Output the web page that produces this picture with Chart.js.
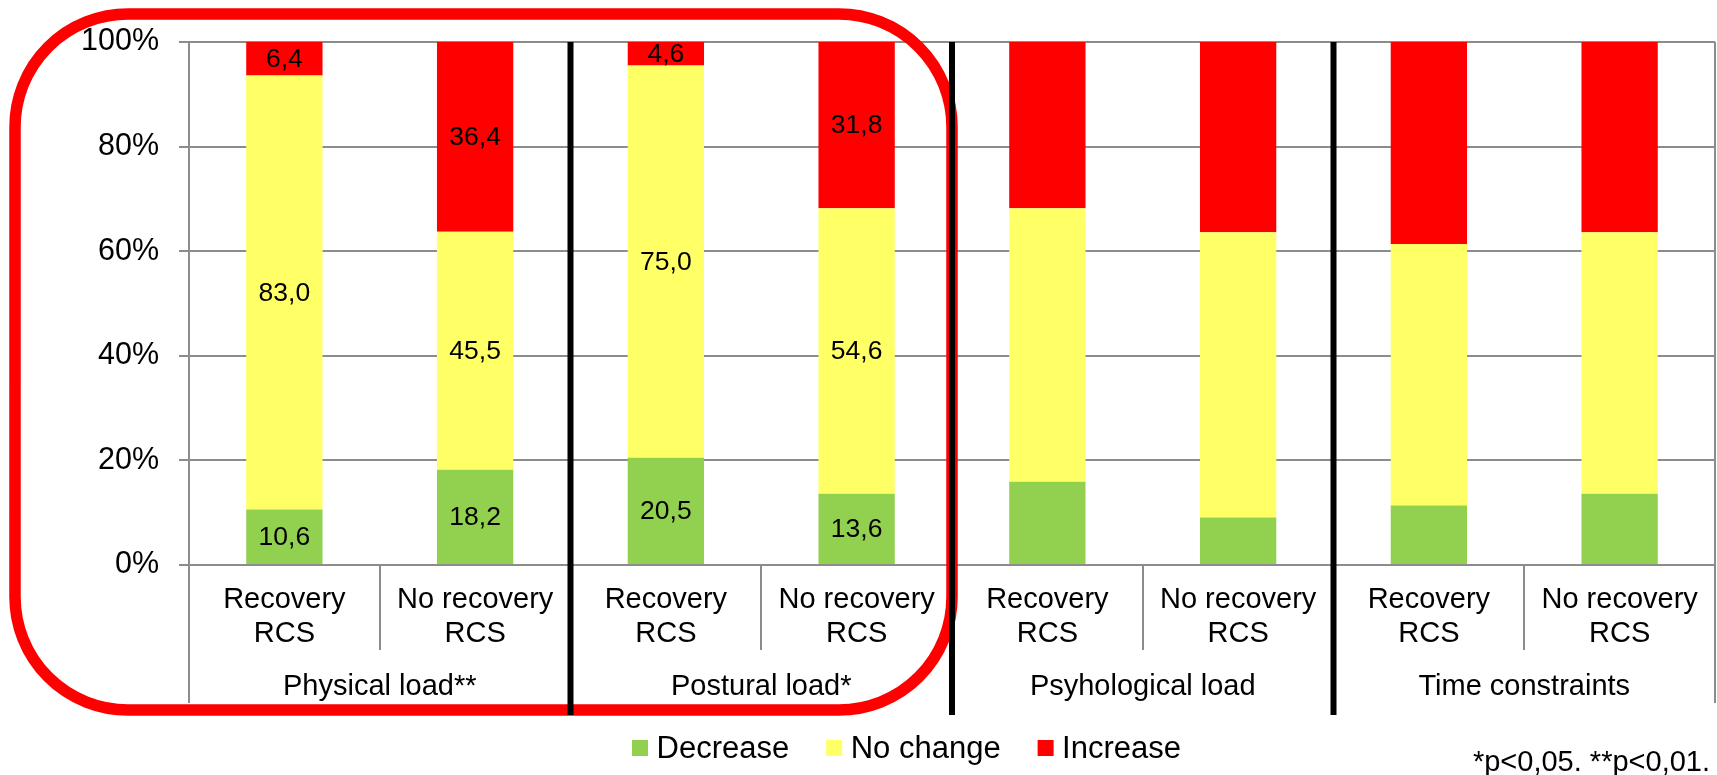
<!DOCTYPE html>
<html>
<head>
<meta charset="utf-8">
<script src="https://cdn.jsdelivr.net/npm/chart.js@4.4.1/dist/chart.umd.min.js"></script>
<style>
  html, body { margin: 0; padding: 0; background: #ffffff; overflow: hidden; }
  canvas { display: block; }
</style>
</head>
<body>
<canvas id="c" width="1717" height="775"></canvas>
<script>
// ---------- data ----------
const groups = ['Physical load**', 'Postural load*', 'Psyhological load', 'Time constraints'];
const categories = [
  ['Recovery', 'RCS'], ['No recovery', 'RCS'],
  ['Recovery', 'RCS'], ['No recovery', 'RCS'],
  ['Recovery', 'RCS'], ['No recovery', 'RCS'],
  ['Recovery', 'RCS'], ['No recovery', 'RCS']
];
const groupIndex = [0, 0, 1, 1, 2, 2, 3, 3];
const decrease = [10.6, 18.2, 20.5, 13.6, 15.9, 9.1, 11.4, 13.6];
const noChange = [83.0, 45.5, 75.0, 54.6, 52.3, 54.5, 50.0, 50.0];
const increase = [6.4, 36.4, 4.6, 31.8, 31.8, 36.4, 38.6, 36.4];
const labelledCategories = 4;           // value labels shown on the first four bars
const yTicks = [0, 20, 40, 60, 80, 100];
const seriesNames = ['Decrease', 'No change', 'Increase'];
const footnote = '*p<0,05. **p<0,01.';

// ---------- styles ----------
const FONT = '"Liberation Sans", Arial, Helvetica, sans-serif';
const seriesColors = ['#92D050', '#FFFF66', '#FF0000'];
const GRID = '#8c8c8c';

const fmt = v => v.toFixed(1).replace('.', ',');

const overlay = {
  id: 'overlay',
  afterDatasetsDraw(chart) {
    const ctx = chart.ctx;
    const area = chart.chartArea;
    ctx.save();
    ctx.font = '26.5px ' + FONT;
    ctx.fillStyle = '#000';
    ctx.textAlign = 'center';
    ctx.textBaseline = 'middle';
    chart.data.datasets.forEach((ds, di) => {
      const meta = chart.getDatasetMeta(di);
      meta.data.forEach((bar, i) => {
        if (i >= labelledCategories) return;
        const top = Math.max(bar.y, area.top);
        const yc = (top + bar.base) / 2;
        ctx.fillText(fmt(ds.data[i]), bar.x, yc + 1);
      });
    });
    ctx.restore();
  },
  afterDraw(chart) {
    const ctx = chart.ctx;
    const xs = chart.scales.x;
    const area = chart.chartArea;
    const n = categories.length;
    const edge = i => xs.getPixelForValue(i - 0.5);
    const line = (x1, y1, x2, y2) => { ctx.beginPath(); ctx.moveTo(x1, y1); ctx.lineTo(x2, y2); ctx.stroke(); };

    ctx.save();
    // category separators below the axis
    ctx.strokeStyle = GRID;
    ctx.lineWidth = 2;
    for (let i = 0; i <= n; i++) {
      const x = Math.round(edge(i));
      if (i === 0 || i === n) {
        line(x, area.top, x, 703);
      } else if (groupIndex[i - 1] === groupIndex[i]) {
        line(x, area.bottom, x, 650);
      }
    }

    // category labels
    ctx.fillStyle = '#000';
    ctx.textAlign = 'center';
    ctx.textBaseline = 'alphabetic';
    ctx.font = '29px ' + FONT;
    categories.forEach((lines, i) => {
      const x = xs.getPixelForValue(i);
      ctx.fillText(lines[0], x, 608);
      ctx.fillText(lines[1], x, 642);
    });
    // group labels
    groups.forEach((g, gi) => {
      const idx = groupIndex.map((v, k) => v === gi ? k : -1).filter(k => k >= 0);
      const x = (edge(idx[0]) + edge(idx[idx.length - 1] + 1)) / 2;
      ctx.fillText(g, x, 695);
    });

    // red rounded highlight around first two groups
    const rx1 = 15, ry1 = 14, rx2 = edge(4), ry2 = 710, r = 113;
    ctx.strokeStyle = '#FF0000';
    ctx.lineWidth = 11.5;
    ctx.beginPath();
    ctx.moveTo(rx1 + r, ry1);
    ctx.lineTo(rx2 - r, ry1);
    ctx.arcTo(rx2, ry1, rx2, ry1 + r, r);
    ctx.lineTo(rx2, ry2 - r);
    ctx.arcTo(rx2, ry2, rx2 - r, ry2, r);
    ctx.lineTo(rx1 + r, ry2);
    ctx.arcTo(rx1, ry2, rx1, ry2 - r, r);
    ctx.lineTo(rx1, ry1 + r);
    ctx.arcTo(rx1, ry1, rx1 + r, ry1, r);
    ctx.closePath();
    ctx.stroke();

    // black group separators
    ctx.strokeStyle = '#000';
    ctx.lineWidth = 6;
    for (let i = 1; i < n; i++) {
      if (groupIndex[i - 1] !== groupIndex[i]) {
        const x = edge(i);
        line(x, area.top, x, 715);
      }
    }

    // legend
    ctx.font = '31px ' + FONT;
    ctx.textAlign = 'left';
    ctx.textBaseline = 'alphabetic';
    let lx = 632;
    chart.data.datasets.forEach(ds => {
      ctx.fillStyle = ds.backgroundColor;
      ctx.fillRect(lx, 740, 16, 16);
      ctx.fillStyle = '#000';
      ctx.fillText(ds.label, lx + 24.5, 758);
      lx += 24.5 + ctx.measureText(ds.label).width + 37;
    });

    // footnote
    ctx.font = '29px ' + FONT;
    ctx.textAlign = 'right';
    ctx.fillText(footnote, 1710, 771);
    ctx.restore();
  }
};

new Chart(document.getElementById('c'), {
  type: 'bar',
  data: {
    labels: categories,
    datasets: [
      { label: seriesNames[0], data: decrease, backgroundColor: seriesColors[0] },
      { label: seriesNames[1], data: noChange, backgroundColor: seriesColors[1] },
      { label: seriesNames[2], data: increase, backgroundColor: seriesColors[2] }
    ]
  },
  options: {
    responsive: false,
    devicePixelRatio: 1,
    animation: false,
    events: [],
    layout: { padding: { left: 0, right: 2, top: 42, bottom: 210 } },
    datasets: { bar: { barPercentage: 0.4, categoryPercentage: 1.0, borderWidth: 0 } },
    plugins: { legend: { display: false }, tooltip: { enabled: false } },
    scales: {
      x: { display: false, stacked: true, offset: true },
      y: {
        stacked: true,
        min: 0, max: 100,
        afterBuildTicks: s => { s.ticks = yTicks.map(v => ({ value: v })); },
        afterFit: s => { s.width = 189; },
        ticks: {
          callback: v => v + '%',
          font: { family: FONT, size: 30.5 },
          color: '#000',
          padding: 20
        },
        grid: { color: GRID, lineWidth: 2, tickLength: 10, drawTicks: true },
        border: { color: GRID, width: 2 }
      }
    }
  },
  plugins: [overlay]
});
</script>
</body>
</html>
